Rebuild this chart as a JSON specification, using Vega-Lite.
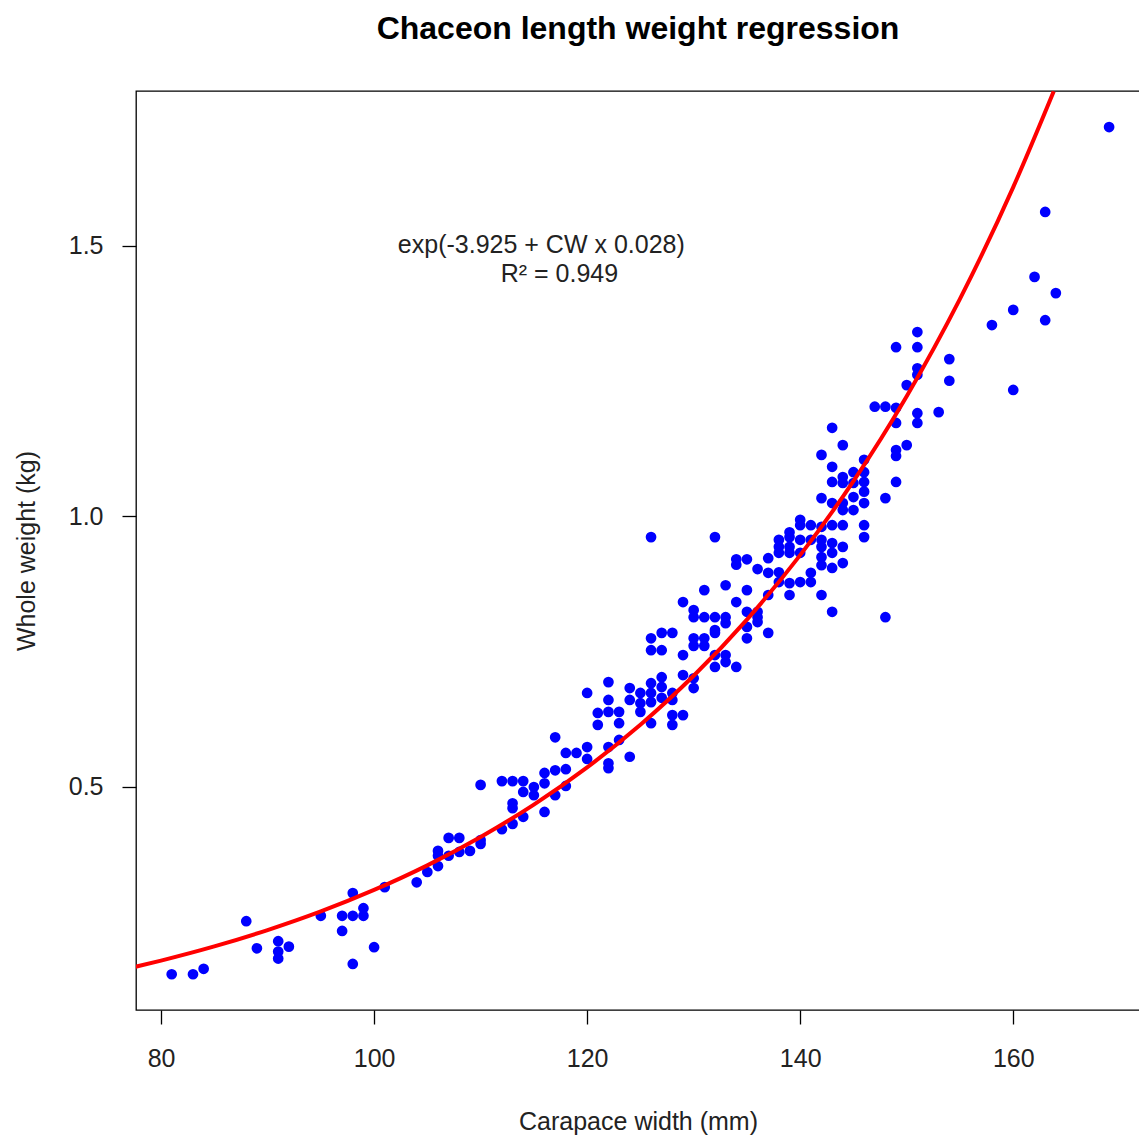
{
  "$schema": "https://vega.github.io/schema/vega-lite/v6.json",
  "autosize": "none",
  "width": 1004,
  "height": 919,
  "padding": {"left": 136, "top": 91, "right": 0, "bottom": 130},
  "background": "white",
  "config": {
    "view": {"stroke": "black", "strokeWidth": 1.3},
    "font": "Liberation Sans",
    "axis": {"grid": false, "domain": false, "tickColor": "black", "tickSize": 14, "tickWidth": 1.3,
      "labelFont": "Liberation Sans", "labelFontSize": 25, "labelColor": "#222",
      "titleFont": "Liberation Sans", "titleFontSize": 25, "titleFontWeight": "normal", "titleColor": "#222"}
  },
  "title": {"text": "Chaceon length weight regression", "font": "Liberation Sans", "fontSize": 32, "fontWeight": "bold", "color": "black", "anchor": "middle", "offset": 45},
  "datasets": {
    "pts": [
      {"cw":81,"w":0.153},{"cw":83,"w":0.153},{"cw":84,"w":0.163},{"cw":88,"w":0.251},{"cw":89,"w":0.201},
      {"cw":91,"w":0.214},{"cw":91,"w":0.195},{"cw":91,"w":0.182},{"cw":92,"w":0.204},{"cw":95,"w":0.261},
      {"cw":97,"w":0.261},{"cw":97,"w":0.233},{"cw":98,"w":0.261},{"cw":98,"w":0.303},{"cw":98,"w":0.172},
      {"cw":99,"w":0.275},{"cw":99,"w":0.261},{"cw":100,"w":0.203},{"cw":101,"w":0.314},{"cw":104,"w":0.323},
      {"cw":105,"w":0.342},{"cw":106,"w":0.353},{"cw":106,"w":0.381},{"cw":106,"w":0.372},{"cw":107,"w":0.372},
      {"cw":107,"w":0.405},{"cw":108,"w":0.405},{"cw":108,"w":0.379},{"cw":109,"w":0.381},{"cw":110,"w":0.394},
      {"cw":110,"w":0.401},{"cw":110,"w":0.503},{"cw":112,"w":0.421},{"cw":112,"w":0.51},{"cw":113,"w":0.51},
      {"cw":114,"w":0.51},{"cw":113,"w":0.431},{"cw":113,"w":0.469},{"cw":113,"w":0.46},{"cw":114,"w":0.444},
      {"cw":114,"w":0.49},{"cw":115,"w":0.499},{"cw":115,"w":0.484},{"cw":116,"w":0.525},{"cw":116,"w":0.506},
      {"cw":116,"w":0.453},{"cw":117,"w":0.53},{"cw":117,"w":0.484},{"cw":117,"w":0.591},{"cw":118,"w":0.562},
      {"cw":118,"w":0.532},{"cw":118,"w":0.501},{"cw":119,"w":0.562},{"cw":120,"w":0.573},{"cw":120,"w":0.551},
      {"cw":121,"w":0.614},{"cw":122,"w":0.573},{"cw":122,"w":0.543},{"cw":122,"w":0.534},
      {"cw":126,"w":0.961},{"cw":132,"w":0.961},{"cw":134,"w":0.92},{"cw":135,"w":0.92},{"cw":134,"w":0.91},
      {"cw":136,"w":0.902},{"cw":131,"w":0.863},{"cw":133,"w":0.872},{"cw":135,"w":0.863},{"cw":129,"w":0.841},
      {"cw":134,"w":0.841},{"cw":135,"w":0.823},{"cw":130,"w":0.826},{"cw":130,"w":0.813},{"cw":131,"w":0.813},
      {"cw":132,"w":0.813},{"cw":133,"w":0.813},{"cw":133,"w":0.802},{"cw":132,"w":0.789},{"cw":136,"w":0.813},
      {"cw":135,"w":0.795},{"cw":135,"w":0.774},{"cw":126,"w":0.774},{"cw":127,"w":0.784},{"cw":128,"w":0.784},
      {"cw":126,"w":0.752},{"cw":127,"w":0.752},{"cw":130,"w":0.774},{"cw":130,"w":0.76},{"cw":131,"w":0.774},
      {"cw":131,"w":0.76},{"cw":132,"w":0.784},{"cw":129,"w":0.743},{"cw":132,"w":0.743},{"cw":133,"w":0.743},
      {"cw":132,"w":0.721},{"cw":133,"w":0.73},{"cw":134,"w":0.721},{"cw":129,"w":0.706},{"cw":130,"w":0.7},
      {"cw":130,"w":0.682},{"cw":122,"w":0.693},{"cw":120,"w":0.673},{"cw":124,"w":0.682},{"cw":122,"w":0.66},
      {"cw":122,"w":0.638},{"cw":121,"w":0.636},{"cw":123,"w":0.638},{"cw":123,"w":0.617},{"cw":124,"w":0.66},
      {"cw":125,"w":0.673},{"cw":125,"w":0.654},{"cw":125,"w":0.638},{"cw":126,"w":0.691},{"cw":126,"w":0.673},
      {"cw":126,"w":0.656},{"cw":126,"w":0.617},{"cw":127,"w":0.702},{"cw":127,"w":0.684},{"cw":127,"w":0.664},
      {"cw":128,"w":0.673},{"cw":128,"w":0.66},{"cw":128,"w":0.632},{"cw":128,"w":0.614},{"cw":129,"w":0.632},
      {"cw":123,"w":0.586},{"cw":124,"w":0.555},
      {"cw":147,"w":1.202},{"cw":148,"w":1.202},{"cw":151,"w":1.19},{"cw":151,"w":1.172},{"cw":149,"w":1.172},
      {"cw":143,"w":1.163},{"cw":144,"w":1.131},{"cw":142,"w":1.113},{"cw":150,"w":1.131},{"cw":149,"w":1.122},
      {"cw":149,"w":1.111},{"cw":146,"w":1.104},{"cw":143,"w":1.091},{"cw":144,"w":1.072},{"cw":145,"w":1.081},
      {"cw":146,"w":1.081},{"cw":143,"w":1.063},{"cw":144,"w":1.061},{"cw":145,"w":1.061},{"cw":146,"w":1.063},
      {"cw":146,"w":1.045},{"cw":145,"w":1.035},{"cw":146,"w":1.024},{"cw":149,"w":1.063},{"cw":148,"w":1.033},
      {"cw":142,"w":1.033},{"cw":143,"w":1.024},{"cw":144,"w":1.024},{"cw":144,"w":1.011},{"cw":145,"w":1.011},
      {"cw":140,"w":0.993},{"cw":140,"w":0.983},{"cw":141,"w":0.983},{"cw":142,"w":0.98},{"cw":143,"w":0.983},
      {"cw":144,"w":0.983},{"cw":146,"w":0.983},{"cw":146,"w":0.961},{"cw":139,"w":0.97},{"cw":139,"w":0.961},
      {"cw":138,"w":0.956},{"cw":140,"w":0.956},{"cw":141,"w":0.956},{"cw":138,"w":0.943},{"cw":139,"w":0.943},
      {"cw":142,"w":0.956},{"cw":142,"w":0.943},{"cw":143,"w":0.95},{"cw":144,"w":0.943},{"cw":137,"w":0.922},
      {"cw":138,"w":0.932},{"cw":139,"w":0.932},{"cw":140,"w":0.932},{"cw":142,"w":0.924},{"cw":142,"w":0.909},
      {"cw":143,"w":0.932},{"cw":143,"w":0.904},{"cw":144,"w":0.913},{"cw":137,"w":0.895},{"cw":138,"w":0.896},
      {"cw":139,"w":0.876},{"cw":140,"w":0.878},{"cw":141,"w":0.895},{"cw":141,"w":0.878},{"cw":138,"w":0.878},
      {"cw":137,"w":0.854},{"cw":139,"w":0.854},{"cw":142,"w":0.854},{"cw":136,"w":0.823},{"cw":143,"w":0.823},
      {"cw":148,"w":0.813},{"cw":136,"w":0.804},{"cw":137,"w":0.784},
      {"cw":160,"w":1.381},{"cw":158,"w":1.353},{"cw":163,"w":1.362},{"cw":160,"w":1.233},{"cw":151,"w":1.34},
      {"cw":149,"w":1.312},{"cw":151,"w":1.312},{"cw":154,"w":1.29},{"cw":154,"w":1.25},{"cw":151,"w":1.273},
      {"cw":151,"w":1.261},{"cw":150,"w":1.242},{"cw":149,"w":1.2},{"cw":153,"w":1.192},
      {"cw":169,"w":1.719},{"cw":163,"w":1.562},{"cw":162,"w":1.442},{"cw":164,"w":1.412}
    ],
    "curve": [
      {"cw":77.6,"w":0.1668},{"cw":80,"w":0.1782},{"cw":85,"w":0.2044},{"cw":90,"w":0.2346},{"cw":95,"w":0.2691},
      {"cw":100,"w":0.3088},{"cw":105,"w":0.3543},{"cw":110,"w":0.4066},{"cw":115,"w":0.4665},{"cw":120,"w":0.5353},
      {"cw":125,"w":0.6142},{"cw":130,"w":0.7047},{"cw":135,"w":0.8086},{"cw":140,"w":0.9277},{"cw":145,"w":1.0645},
      {"cw":150,"w":1.2214},{"cw":155,"w":1.4014},{"cw":160,"w":1.608},{"cw":163.8,"w":1.785}
    ],
    "ann": [
      {"cw":115.7,"w":1.501,"t":"exp(-3.925 + CW x 0.028)"},
      {"cw":117.4,"w":1.447,"t":"R² = 0.949"}
    ]
  },
  "layer": [
    {
      "data": {"name": "pts"},
      "mark": {"type": "point", "filled": true, "shape": "circle", "size": 115, "color": "#0000FF", "opacity": 1},
      "encoding": {
        "x": {"field": "cw", "type": "quantitative", "scale": {"domain": [77.65, 171.9], "nice": false, "zero": false},
          "axis": {"values": [80, 100, 120, 140, 160], "title": "Carapace width (mm)", "labelPadding": 22, "titlePadding": 38}},
        "y": {"field": "w", "type": "quantitative", "scale": {"domain": [0.0869, 1.7856], "nice": false, "zero": false},
          "axis": {"values": [0.5, 1.0, 1.5], "format": ".1f", "title": "Whole weight (kg)", "labelPadding": 19, "titlePadding": 29}}
      }
    },
    {
      "data": {"name": "curve"},
      "mark": {"type": "line", "color": "#FF0000", "strokeWidth": 4, "clip": true, "interpolate": "monotone"},
      "encoding": {
        "x": {"field": "cw", "type": "quantitative"},
        "y": {"field": "w", "type": "quantitative"}
      }
    },
    {
      "data": {"name": "ann"},
      "mark": {"type": "text", "font": "Liberation Sans", "fontSize": 25, "color": "#222", "align": "center", "baseline": "middle"},
      "encoding": {
        "x": {"field": "cw", "type": "quantitative"},
        "y": {"field": "w", "type": "quantitative"},
        "text": {"field": "t"}
      }
    }
  ]
}
